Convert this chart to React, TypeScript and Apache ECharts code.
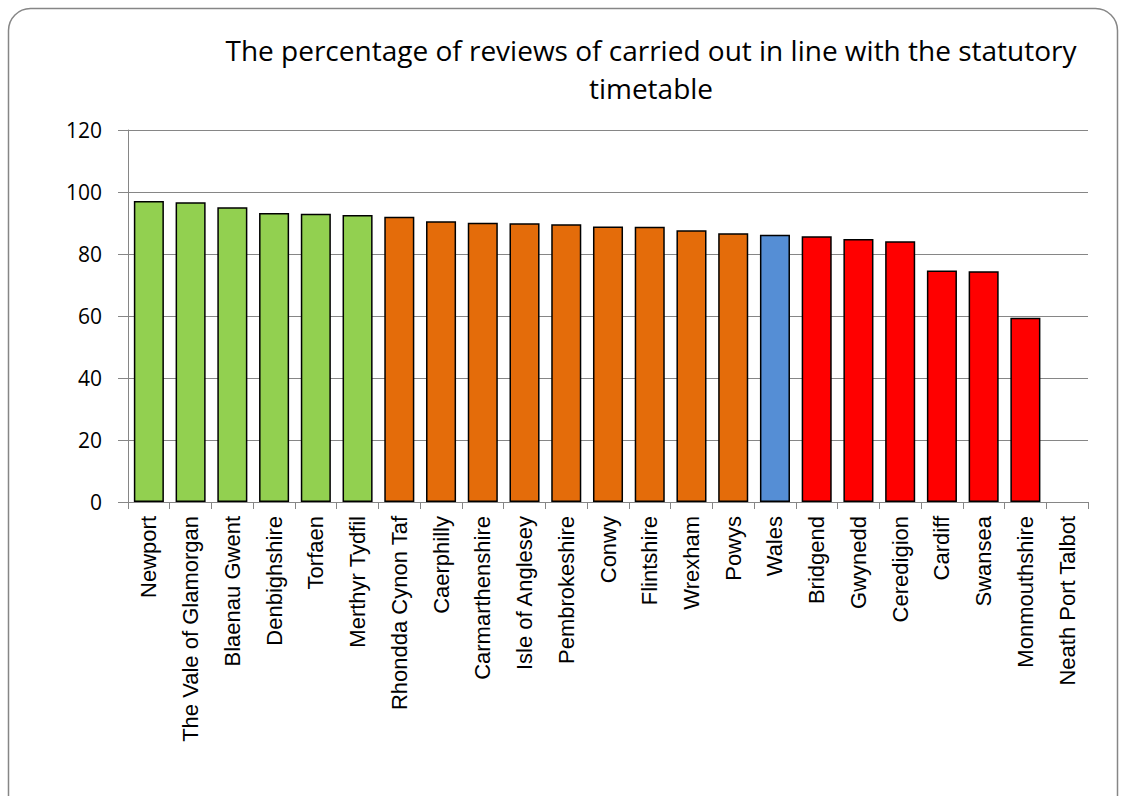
import React, { useEffect, useRef } from "react";
import * as echarts from "echarts";

const categories = [
  "Newport", "The Vale of Glamorgan", "Blaenau Gwent", "Denbighshire", "Torfaen",
  "Merthyr Tydfil", "Rhondda Cynon Taf", "Caerphilly", "Carmarthenshire", "Isle of Anglesey",
  "Pembrokeshire", "Conwy", "Flintshire", "Wrexham", "Powys", "Wales", "Bridgend",
  "Gwynedd", "Ceredigion", "Cardiff", "Swansea", "Monmouthshire", "Neath Port Talbot",
];
const values: (number | null)[] = [
  97.1, 96.7, 95.1, 93.2, 93.0, 92.6, 92.0, 90.6, 90.1, 89.9,
  89.6, 88.9, 88.8, 87.7, 86.7, 86.2, 85.7, 84.8, 84.1, 74.7, 74.4, 59.4, null,
];
const groups = [
  "green", "green", "green", "green", "green", "green", "orange", "orange", "orange", "orange",
  "orange", "orange", "orange", "orange", "orange", "blue", "red", "red", "red", "red", "red", "red", "red",
];
const groupColors: Record<string, string> = {
  green: "#92D050",
  orange: "#E46C0A",
  blue: "#558ED5",
  red: "#FF0000",
};
const titleText = "The percentage of reviews of carried out in line with the statutory\ntimetable";

export default function App() {
  const ref = useRef<HTMLDivElement>(null);
  useEffect(() => {
    if (!ref.current) return;
    const chart = echarts.init(ref.current, undefined, { renderer: "svg" });
    const font = "Open Sans";
    chart.setOption({
      animation: false,
      textStyle: { fontFamily: font },
      title: {
        text: titleText,
        left: 646,
        top: 26,
        textAlign: "center",
        textStyle: { fontFamily: font, fontSize: 28, fontWeight: "normal", color: "#000", lineHeight: 38 },
      },
      graphic: [
        {
          type: "rect",
          shape: { x: 8.5, y: 8.5, width: 1109, height: 820, r: 22 },
          style: { fill: "none", stroke: "#868686", lineWidth: 1.5 },
          silent: true,
        },
      ],
      grid: { left: 128, right: 34, top: 130, bottom: 294 },
      xAxis: {
        type: "category",
        data: categories,
        axisTick: { show: true, alignWithLabel: false, length: 7, lineStyle: { color: "#868686" } },
        axisLine: { lineStyle: { color: "#868686", width: 1 } },
        axisLabel: { rotate: 90, interval: 0, color: "#000", fontSize: 22, fontFamily: "Liberation Sans", margin: 14 },
      },
      yAxis: {
        type: "value",
        min: 0,
        max: 120,
        interval: 20,
        axisLine: { show: true, lineStyle: { color: "#868686" } },
        axisTick: { show: true, length: 10, lineStyle: { color: "#868686" } },
        splitLine: { lineStyle: { color: "#868686", width: 1 } },
        axisLabel: { color: "#000", fontSize: 21, fontFamily: font, margin: 26 },
      },
      series: [
        {
          type: "bar",
          data: values.map((v, i) => ({
            value: v,
            itemStyle: { color: groupColors[groups[i]], borderColor: "#000", borderWidth: 1.5 },
          })),
          barCategoryGap: "28%",
        },
      ],
    });
    return () => chart.dispose();
  }, []);
  return (
    <div
      ref={ref}
      style={{ position: "absolute", left: 0, top: 0, width: 1122, height: 796, background: "#fff" }}
    />
  );
}
